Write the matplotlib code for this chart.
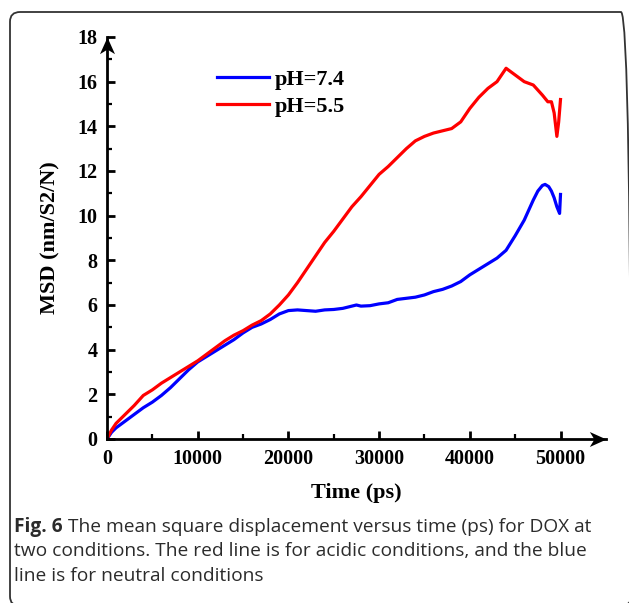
import matplotlib
matplotlib.use("Agg")
import matplotlib.pyplot as plt
from matplotlib.patches import FancyBboxPatch
from matplotlib.path import Path
import numpy as np

# ---- data ----
time_74 = [0, 500, 1000, 2000, 3000, 4000, 5000, 6000, 7000, 8000, 9000, 10000,
           11000, 12000, 13000, 14000, 15000, 16000, 17000, 18000, 19000, 20000,
           21000, 22000, 23000, 24000, 25000, 26000, 27000, 27500, 28000, 29000,
           30000, 31000, 32000, 33000, 34000, 35000, 36000, 37000, 38000, 39000,
           40000, 41000, 42000, 43000, 44000, 45000, 46000, 47000, 47500, 48000,
           48300, 48700, 49000, 49300, 49600, 49900, 50000]
msd_74 = [0, 0.3, 0.5, 0.8, 1.1, 1.4, 1.65, 1.95, 2.3, 2.7, 3.1, 3.45,
          3.7, 3.95, 4.2, 4.45, 4.75, 5.0, 5.15, 5.35, 5.6, 5.75,
          5.78, 5.75, 5.72, 5.78, 5.8, 5.85, 5.95, 6.0, 5.95, 5.97,
          6.05, 6.1, 6.25, 6.3, 6.35, 6.45, 6.6, 6.7, 6.85, 7.05,
          7.35, 7.6, 7.85, 8.1, 8.45, 9.1, 9.8, 10.7, 11.1, 11.35,
          11.4, 11.3, 11.1, 10.8, 10.4, 10.1, 10.95]

time_55 = [0, 500, 1000, 2000, 3000, 4000, 5000, 6000, 7000, 8000, 9000, 10000,
           11000, 12000, 13000, 14000, 15000, 16000, 17000, 18000, 19000, 20000,
           21000, 22000, 23000, 24000, 25000, 26000, 27000, 28000, 29000, 30000,
           31000, 32000, 33000, 34000, 35000, 36000, 37000, 38000, 39000, 40000,
           41000, 42000, 43000, 44000, 45000, 46000, 47000, 48000, 48600, 49000,
           49300, 49600, 49800, 50000]
msd_55 = [0, 0.4, 0.7, 1.1, 1.5, 1.95, 2.2, 2.5, 2.75, 3.0, 3.25, 3.5,
          3.8, 4.1, 4.4, 4.65, 4.85, 5.1, 5.3, 5.6, 6.0, 6.45,
          7.0, 7.6, 8.2, 8.8, 9.3, 9.85, 10.4, 10.85, 11.35, 11.85,
          12.2, 12.6, 13.0, 13.35, 13.55, 13.7, 13.8, 13.9, 14.2, 14.8,
          15.3, 15.7, 16.0, 16.6, 16.3, 16.0, 15.85, 15.4, 15.1, 15.1,
          14.6, 13.55, 14.2, 15.2]

labels = ["pH=7.4", "pH=5.5"]
x_ticks = [0, 10000, 20000, 30000, 40000, 50000]
y_ticks = [0, 2, 4, 6, 8, 10, 12, 14, 16, 18]

W, H = 629, 603
fig = plt.figure(figsize=(W / 100, H / 100), dpi=100)
fig.patch.set_facecolor("white")

serif = "Liberation Serif"

# axes placement (pixels)
x0, y0 = 107, 439        # origin
x1, ytop = 606, 37       # arrow tips
ax = fig.add_axes([x0 / W, 1 - y0 / H, (x1 - x0) / W, (y0 - ytop) / H])

ax.plot(time_74, msd_74, color="#0000FF", lw=2.3, label=labels[0])
ax.plot(time_55, msd_55, color="#FF0000", lw=2.3, label=labels[1])

for s in ["top", "right"]:
    ax.spines[s].set_visible(False)
for s in ["left", "bottom"]:
    ax.spines[s].set_linewidth(2.0)
    ax.spines[s].set_color("black")

ax.set_xticks(x_ticks)
ax.set_yticks(y_ticks)
ax.set_xticks(np.arange(5000, 50001, 10000), minor=True)
ax.set_yticks(np.arange(1, 18, 2), minor=True)
ax.set_xlim(0, (x1 - x0) / 90.7 * 10000)
ax.set_ylim(0, 18)
ax.tick_params(which="major", direction="in", length=6, width=2.0, pad=7)
ax.tick_params(which="minor", direction="in", length=3.5, width=1.6)
for lab in ax.get_xticklabels() + ax.get_yticklabels():
    lab.set_fontfamily(serif)
    lab.set_fontweight("bold")
    lab.set_fontsize(14.5)

ax.set_xlabel("Time (ps)", fontfamily=serif, fontweight="bold", fontsize=16, labelpad=10)
ax.set_ylabel("MSD (nm/S2/N)", fontfamily=serif, fontweight="bold", fontsize=16, labelpad=12)

# arrow heads
arrow = Path([(0, 0), (-2.0, 0.9), (-1.45, 0), (-2.0, -0.9), (0, 0)],
             [Path.MOVETO, Path.LINETO, Path.LINETO, Path.LINETO, Path.CLOSEPOLY])
arrow_up = Path([(0, 0), (0.9, -2.0), (0, -1.45), (-0.9, -2.0), (0, 0)],
                [Path.MOVETO, Path.LINETO, Path.LINETO, Path.LINETO, Path.CLOSEPOLY])
ax.plot([1], [0], marker=arrow, markersize=24, color="black", transform=ax.transAxes,
        clip_on=False, mew=0)
ax.plot([0], [1], marker=arrow_up, markersize=24, color="black", transform=ax.transAxes,
        clip_on=False, mew=0)

leg = ax.legend(loc="upper left", bbox_to_anchor=(217 / W, 1 - 69 / H),
                bbox_transform=fig.transFigure, frameon=False, borderpad=0,
                handlelength=2.35, handletextpad=0.25, labelspacing=0.3,
                prop={"family": serif, "weight": "bold", "size": 16}, borderaxespad=0)

# caption
cap_font = "Open Sans"
cap_size = 13.8
cap_color = "#2b2b2b"
t_bold = fig.text(14 / W, 1 - 527 / H, "Fig. 6", fontfamily=cap_font, fontweight="bold",
                  fontsize=cap_size, color=cap_color, va="center", ha="left")
fig.canvas.draw()
r = fig.canvas.get_renderer()
bb = t_bold.get_window_extent(r)
fig.text((bb.x1 + 5) / W, 1 - 527 / H,
         "The mean square displacement versus time (ps) for DOX at",
         fontfamily=cap_font, fontsize=cap_size, color=cap_color, va="center", ha="left")
fig.text(14 / W, 1 - 551 / H,
         "two conditions. The red line is for acidic conditions, and the blue",
         fontfamily=cap_font, fontsize=cap_size, color=cap_color, va="center", ha="left")
fig.text(14 / W, 1 - 576 / H, "line is for neutral conditions",
         fontfamily=cap_font, fontsize=cap_size, color=cap_color, va="center", ha="left")

# rounded frame
frame = FancyBboxPatch((10 / W, 1 - 606 / H), (631 - 10) / W, (606 - 12) / H,
                       boxstyle="round,pad=0,rounding_size=0.016",
                       transform=fig.transFigure, fill=False, edgecolor="#333333",
                       linewidth=1.3, clip_on=False)
fig.patches.append(frame)

fig.savefig("out.png", dpi=100, facecolor="white")
